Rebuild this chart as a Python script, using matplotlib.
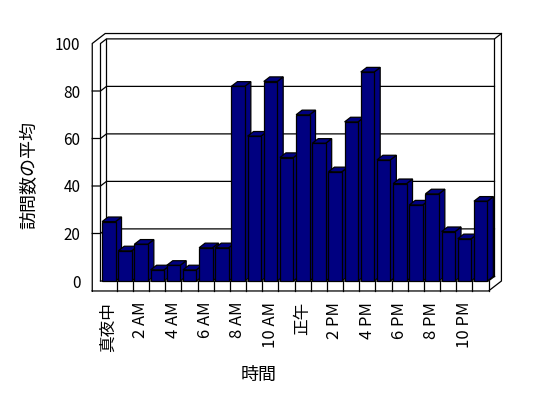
import matplotlib
matplotlib.use("Agg")
import matplotlib.pyplot as plt
from matplotlib.patches import Polygon, Rectangle

plt.rcParams['font.family'] = ['Noto Sans CJK JP', 'DejaVu Sans']

# 時間ごとの訪問数の平均
hours = ['真夜中', '1 AM', '2 AM', '3 AM', '4 AM', '5 AM', '6 AM', '7 AM',
         '8 AM', '9 AM', '10 AM', '11 AM', '正午', '1 PM', '2 PM', '3 PM',
         '4 PM', '5 PM', '6 PM', '7 PM', '8 PM', '9 PM', '10 PM', '11 PM']
visits = [25, 12.7, 15.5, 4.7, 6.6, 4.7, 14, 14,
          82, 61, 84, 52, 70, 58, 46, 67,
          88, 51, 41, 32, 36.7, 20.8, 17.8, 33.6]
tick_labels = ['真夜中', '2 AM', '4 AM', '6 AM', '8 AM', '10 AM',
               '正午', '2 PM', '4 PM', '6 PM', '8 PM', '10 PM']
y_ticks = [0, 20, 40, 60, 80, 100]

bar_col = '#000080'
lw = 0.9

fig = plt.figure(figsize=(5.48, 3.98), dpi=100)
ax = fig.add_axes([100.5 / 548, 117 / 398, 388 / 548, 237.5 / 398])
n = len(hours)
ax.set_xlim(-0.5, n - 0.5)
ax.set_ylim(0, 100)

### 奥行きの大きさ (データ単位)
dix, diy = 0.37, 1.94   # 内側の壁
dox, doy = 0.80, 4.2    # 外側の枠
wall = 0.51             # 左の壁の厚さ
fl = 4.2                # 床の厚さ
x0, x1 = -0.5, n - 0.5
xl = x0 - wall

def line(pts, z=1):
    xs = [p[0] for p in pts]
    ys = [p[1] for p in pts]
    ax.plot(xs, ys, color='black', lw=lw, clip_on=False, zorder=z,
            solid_joinstyle='miter')

### 壁と床
line([(xl, -fl), (xl, 100), (xl + dox, 100 + doy), (x1 + dox, 100 + doy),
      (x1 + dox, doy - fl), (x1, -fl), (xl, -fl)])
line([(x0, 0), (x0, 100), (x0 + dix, 100 + diy), (x1 + dix, 100 + diy),
      (x1 + dox, 100 + doy)])
line([(x0 + dix, 100 + diy), (x0 + dix, diy)])
line([(x1 + dix, 100 + diy), (x1 + dix, diy)])
for v in y_ticks[1:-1]:
    line([(xl, v), (x0, v), (x0 + dix, v + diy), (x1 + dix, v + diy)])
line([(x0, 0), (x1, 0), (x1 + dix, diy)])
line([(x0 + dix, diy), (x1 + dix, diy)])
for k in range(n):
    line([(k + 0.5, -fl), (k + 0.5, 0)])

### 棒
for i, v in enumerate(visits):
    a = i - 0.4
    b = i + 0.43
    front = Rectangle((a, 0), b - a, v, facecolor=bar_col, edgecolor='black',
                      lw=lw, clip_on=False, zorder=3 + i * 0.01)
    top = Polygon([(a, v), (b, v), (b + dix, v + diy), (a + dix, v + diy)],
                  closed=True, facecolor=bar_col, edgecolor='black', lw=lw,
                  clip_on=False, zorder=3 + i * 0.01)
    side = Polygon([(b, 0), (b + dix, diy), (b + dix, v + diy), (b, v)],
                   closed=True, facecolor=bar_col, edgecolor='black', lw=lw,
                   clip_on=False, zorder=3 + i * 0.01)
    ax.add_patch(side)
    ax.add_patch(top)
    ax.add_patch(front)

ax.set_xticks(range(0, n, 2))
ax.set_xticklabels(tick_labels, rotation=90, fontsize=12)
ax.set_yticks(y_ticks)
ax.set_yticklabels([str(t) for t in y_ticks], fontsize=11)
ax.tick_params(axis='x', length=0, pad=15)
ax.tick_params(axis='y', length=0, pad=14.5)
for s in ax.spines.values():
    s.set_visible(False)
ax.patch.set_visible(False)

ax.set_xlabel('時間', fontsize=13, va='center')
ax.xaxis.set_label_coords(0.407, -0.396)
ax.set_ylabel('訪問数の平均', fontsize=13, va='center')
ax.yaxis.set_label_coords(-0.1835, 0.446)

fig.savefig('out.png', dpi=100, facecolor='white')
